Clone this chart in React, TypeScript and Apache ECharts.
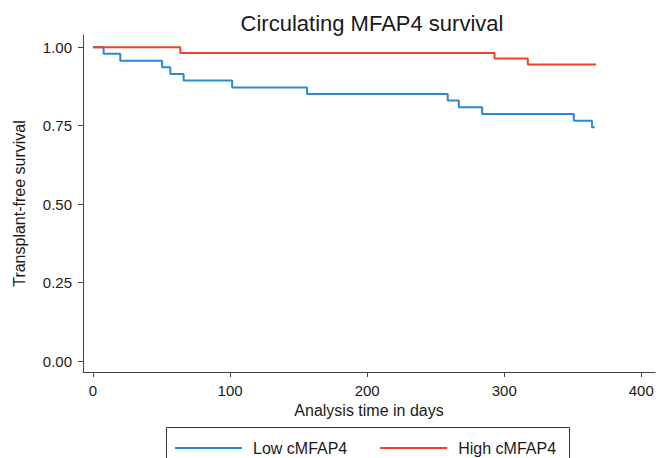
import React, { useEffect, useRef } from "react";
import * as echarts from "echarts";

const lowDays = [0, 7.7, 19.9, 50.4, 56.4, 66.1, 101.5, 156.2, 258.8, 266.9, 283.9, 350.8, 364, 366];
const lowSurv = [1, 0.979, 0.957, 0.936, 0.915, 0.894, 0.872, 0.851, 0.83, 0.809, 0.787, 0.766, 0.745, 0.745];
const highDays = [0, 63.7, 292.9, 317.2, 367];
const highSurv = [1, 0.982, 0.964, 0.945, 0.945];
const xTicks = [0, 100, 200, 300, 400];
const yTicks = [0, 0.25, 0.5, 0.75, 1];
const seriesNames = ["Low cMFAP4", "High cMFAP4"];

const FONT = "'Liberation Sans', Arial, Helvetica, sans-serif";
const BLUE = "#2a8ad0";
const RED = "#f0402a";

export default function App() {
  const ref = useRef<HTMLDivElement>(null);
  useEffect(() => {
    if (!ref.current) return;
    const chart = echarts.init(ref.current, undefined, { renderer: "svg" });
    const low = lowDays.map((d, i) => [d, lowSurv[i]]);
    const high = highDays.map((d, i) => [d, highSurv[i]]);
    chart.setOption({
      animation: false,
      backgroundColor: "#fff",
      textStyle: { fontFamily: FONT },
      title: {
        text: "Circulating MFAP4 survival",
        left: 367,
        top: 7,
        textAlign: "center",
        textStyle: { fontFamily: FONT, fontSize: 22, fontWeight: "normal", color: "#1a1a1a" },
      },
      grid: { left: 83, right: 13, top: 35, bottom: 86, containLabel: false },
      xAxis: {
        type: "value",
        min: -7.3,
        max: 410,
        name: "Analysis time in days",
        nameLocation: "middle",
        nameGap: 30,
        nameTextStyle: { fontFamily: FONT, fontSize: 16, color: "#1a1a1a" },
        splitLine: { show: false },
        axisLine: { show: true, onZero: false, lineStyle: { color: "#444", width: 1 } },
        axisTick: { show: true, length: 5, customValues: xTicks, lineStyle: { color: "#444" } },
        axisLabel: { customValues: xTicks, margin: 11, fontSize: 15, color: "#1a1a1a", fontFamily: FONT },
      },
      yAxis: {
        type: "value",
        min: -0.035,
        max: 1.039,
        name: "Transplant-free survival",
        nameLocation: "middle",
        nameGap: 56,
        nameRotate: 90,
        nameTextStyle: { fontFamily: FONT, fontSize: 16, color: "#1a1a1a" },
        splitLine: { show: false },
        axisLine: { show: true, onZero: false, lineStyle: { color: "#444", width: 1 } },
        axisTick: { show: true, length: 5, customValues: yTicks, lineStyle: { color: "#444" } },
        axisLabel: {
          customValues: yTicks,
          margin: 11,
          fontSize: 15,
          color: "#1a1a1a",
          fontFamily: FONT,
          formatter: (v: number) => v.toFixed(2),
        },
      },
      legend: {
        left: 170,
        top: 434,
        icon: "rect",
        itemWidth: 67,
        itemHeight: 2,
        itemGap: 33,
        textStyle: { fontFamily: FONT, fontSize: 16, color: "#1a1a1a", padding: [0, 0, 0, 6], lineHeight: 18 },
        data: seriesNames,
      },
      graphic: [
        {
          type: "rect",
          shape: { x: 166.5, y: 427.5, width: 403, height: 45 },
          style: { fill: "none", stroke: "#333", lineWidth: 1 },
          silent: true,
        },
      ],
      series: [
        {
          name: seriesNames[0],
          type: "line",
          step: "end",
          data: low,
          showSymbol: false,
          symbol: "none",
          lineStyle: { color: BLUE, width: 2 },
          itemStyle: { color: BLUE },
        },
        {
          name: seriesNames[1],
          type: "line",
          step: "end",
          data: high,
          showSymbol: false,
          symbol: "none",
          lineStyle: { color: RED, width: 2 },
          itemStyle: { color: RED },
        },
      ],
    });
    return () => chart.dispose();
  }, []);
  return (
    <div
      ref={ref}
      style={{ position: "fixed", left: 0, top: 0, width: 668, height: 458, background: "#fff" }}
    />
  );
}
